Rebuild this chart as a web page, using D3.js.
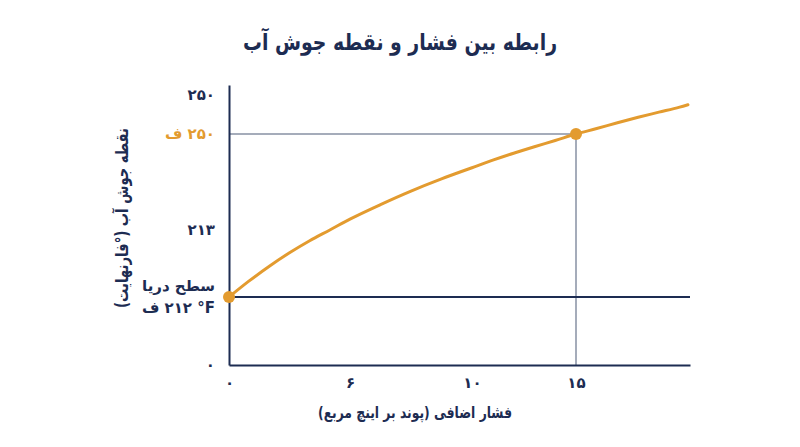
<!DOCTYPE html>
<html>
<head>
<meta charset="utf-8">
<script src="https://cdn.jsdelivr.net/npm/d3@7"></script>
<style>
    body { margin: 0; background: #fff; }
    text { font-family: "DejaVu Sans", sans-serif; font-weight: bold; }
</style>
</head>
<body>
<div id="chart"></div>
<script>
// boiling point curve (psi above atmosphere, deg F)
var pressure = [0, 1, 2, 3, 4, 5, 6, 7, 8, 9, 10, 11, 12, 13, 14, 15, 16, 17, 18, 19, 20, 20.4];
var boiling  = [212, 212.24, 212.46, 212.66, 212.84, 213, 217.2, 222.8, 228, 232.7, 237, 239.9, 242.6, 245.1, 247.5, 250, 251.4, 252.9, 254.3, 255.6, 256.9, 257.5];

// marked points
var markPressure = [0, 15];
var markBoiling = [212, 250];

// ticks
var xTickValues = [0, 6, 10, 15];
var xTickLabels = ["۰", "۶", "۱۰", "۱۵"];
var yTickValues = [0, 212, 213, 250, 260];
var yTickLabels = ["۰", "۲۱۲ °F ف", "۲۱۳", "۲۵۰ ف", "۲۵۰"];

var title = "رابطه بین فشار و نقطه جوش آب";
var xTitle = "فشار اضافی (پوند بر اینچ مربع)";
var yTitle = "نقطه جوش آب (°فارنهایت)";
var seaLevel = "سطح دریا";

var navy = "#1d2c52", orange = "#e39b2f", grey = "#8791a3";
var RLE = "\u202B", LRO = "\u202D", PDF = "\u202C";

var margin = { top: 85, right: 110, bottom: 82, left: 229 };
var width = 800 - margin.left - margin.right;
var height = 447 - margin.top - margin.bottom;

var root = d3.select("#chart").append("svg")
    .attr("width", 800)
    .attr("height", 447);

var svg = root.append("g")
    .attr("transform", "translate(" + margin.left + "," + margin.top + ")");

// the axes in the picture are not to scale, so both scales are piecewise
var x = d3.scaleLinear()
    .domain([0, 6, 10, 15, 20.5])
    .range([0, 121, 243, 347, width]);
var y = d3.scaleLinear()
    .domain(yTickValues.concat([262.5]))
    .range([height, 212, 145, 49, 10, 0]);

// title
root.append("text")
    .attr("x", 400)
    .attr("y", 50)
    .attr("text-anchor", "middle")
    .attr("fill", navy)
    .attr("textLength", 314)
    .attr("lengthAdjust", "spacingAndGlyphs")
    .style("font-size", "23px")
    .text(RLE + title + PDF);

// guide lines to the 15 psi point
svg.append("line")
    .attr("x1", x(0)).attr("x2", x(15))
    .attr("y1", y(250)).attr("y2", y(250))
    .attr("stroke", grey).attr("stroke-width", 1.5);
svg.append("line")
    .attr("x1", x(15)).attr("x2", x(15))
    .attr("y1", y(250)).attr("y2", y(0))
    .attr("stroke", grey).attr("stroke-width", 1.5);

// sea level line
svg.append("line")
    .attr("x1", x(0)).attr("x2", x(20.5))
    .attr("y1", y(212)).attr("y2", y(212))
    .attr("stroke", navy).attr("stroke-width", 2);

// axes
var xAxis = d3.axisBottom(x)
    .tickValues(xTickValues)
    .tickFormat(function(d, i) { return xTickLabels[i]; })
    .tickSize(0)
    .tickPadding(12);
var gx = svg.append("g")
    .attr("class", "axis x-axis")
    .attr("transform", "translate(0," + height + ")")
    .call(xAxis);

var yAxis = d3.axisLeft(y)
    .tickValues(yTickValues)
    .tickFormat(function(d, i) { return yTickLabels[i]; })
    .tickSize(0)
    .tickPadding(14);
var gy = svg.append("g")
    .attr("class", "axis y-axis")
    .call(yAxis);

[gx, gy].forEach(function(g) {
    g.select(".domain").attr("stroke", navy).attr("stroke-width", 2);
    g.selectAll("text")
        .attr("fill", navy)
        .style("font-size", "15px")
        .style("font-family", "'DejaVu Sans', sans-serif");
});

// special y labels
gy.selectAll(".tick text").each(function(d, i) {
    var t = d3.select(this);
    if (d === 250) {
        t.attr("fill", orange).text(RLE + yTickLabels[i] + PDF);
    } else if (d === 212) {
        t.text(null);
        t.append("tspan").attr("x", -14).attr("dy", "-0.45em").text(RLE + seaLevel + PDF);
        t.append("tspan").attr("x", -14).attr("dy", "1.45em").text(LRO + "ف ۲۱۲ °F" + PDF);
    }
});

// boiling point curve
var curveData = pressure.map(function(p, i) { return { p: p, t: boiling[i] }; });
var line = d3.line()
    .x(function(d) { return x(d.p); })
    .y(function(d) { return y(d.t); })
    .curve(d3.curveMonotoneX);

svg.append("path")
    .datum(curveData)
    .attr("d", line)
    .attr("fill", "none")
    .attr("stroke", orange)
    .attr("stroke-width", 3)
    .attr("stroke-linecap", "round");

svg.selectAll(".mark")
    .data(markPressure)
    .enter()
    .append("circle")
    .attr("class", "mark")
    .attr("cx", function(d) { return x(d); })
    .attr("cy", function(d, i) { return y(markBoiling[i]); })
    .attr("r", 6)
    .attr("fill", orange);

// axis titles
root.append("text")
    .attr("x", 415)
    .attr("y", 418)
    .attr("text-anchor", "middle")
    .attr("fill", navy)
    .attr("textLength", 194)
    .attr("lengthAdjust", "spacingAndGlyphs")
    .style("font-size", "16px")
    .text(RLE + xTitle + PDF);

root.append("text")
    .attr("transform", "translate(128,218) rotate(-90)")
    .attr("text-anchor", "middle")
    .attr("fill", navy)
    .attr("textLength", 180)
    .attr("lengthAdjust", "spacingAndGlyphs")
    .style("font-size", "17px")
    .text(RLE + yTitle + PDF);
</script>
</body>
</html>
